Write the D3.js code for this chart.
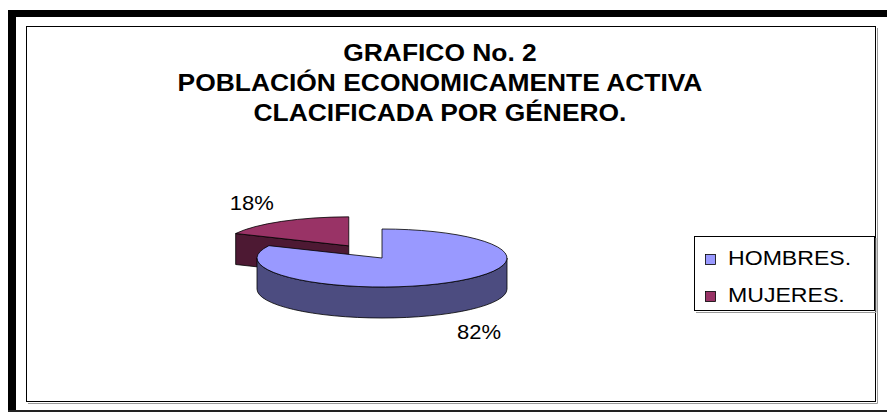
<!DOCTYPE html>
<html>
<head>
<meta charset="utf-8">
<script src="https://cdn.jsdelivr.net/npm/d3@7"></script>
<style>
  body { margin: 0; background: #fff; }
  text { font-family: Arial, "Liberation Sans", sans-serif; }
</style>
</head>
<body>
<script>
// data
var categories = ["HOMBRES.", "MUJERES."];
var values = [82, 18];
var exploded = ["MUJERES."];
var titleLines = ["GRAFICO No. 2", "POBLACIÓN ECONOMICAMENTE ACTIVA", "CLACIFICADA POR GÉNERO."];

var W = 887, H = 413;
var svg = d3.select("body").append("svg")
    .attr("width", W)
    .attr("height", H);

// outer frame (thick black, cropped on the right)
svg.append("rect").attr("x", 8).attr("y", 10).attr("width", W - 8).attr("height", 7).attr("fill", "#000");
svg.append("rect").attr("x", 8).attr("y", 10).attr("width", 8).attr("height", 402).attr("fill", "#000");
svg.append("rect").attr("x", 8).attr("y", 410).attr("width", W - 8).attr("height", 2).attr("fill", "#222");

// chart area border + shadow
svg.append("path")
    .attr("d", "M877.5,28 V403.5 H28")
    .attr("fill", "none").attr("stroke", "#9a9a9a").attr("stroke-width", 1);
svg.append("rect")
    .attr("x", 26.5).attr("y", 26.5).attr("width", 849).attr("height", 375)
    .attr("fill", "none").attr("stroke", "#000").attr("stroke-width", 1);

// title
var stretch = 1.1;
svg.append("g").selectAll("text")
    .data(titleLines)
    .enter().append("text")
    .attr("transform", function(d, i) { return "translate(440," + (61 + i * 30) + ") scale(" + stretch + ",1)"; })
    .attr("text-anchor", "middle")
    .attr("font-size", 24)
    .attr("font-weight", "bold")
    .attr("fill", "#000")
    .text(function(d) { return d; });

var color = d3.scaleOrdinal().domain(categories).range(["#9999FF", "#993366"]);
var sideColor = d3.scaleOrdinal().domain(categories).range(["#4C4C80", "#4D1933"]);

// 3d pie geometry
var cx = 382, cy = 258, rx = 125, ry = 29, depth = 31, explode = 62;

var pie = d3.pie().sort(null).value(function(d) { return d.value; });
var arcs = pie(categories.map(function(c, i) { return {name: c, value: values[i]}; }));
var total = d3.sum(values);
var pct = d3.format(".0%");

arcs.forEach(function(a) {
    var mid = (a.startAngle + a.endAngle) / 2;
    var off = exploded.indexOf(a.data.name) >= 0 ? explode : 0;
    a.mid = mid;
    a.ox = cx + off * Math.sin(mid);
    a.oy = cy - off * Math.cos(mid) * (ry / rx);
});

function pt(a, ang, dz) {
    return [a.ox + rx * Math.sin(ang), a.oy - ry * Math.cos(ang) + (dz || 0)];
}

function topPath(a) {
    var p0 = pt(a, a.startAngle), p1 = pt(a, a.endAngle);
    var large = (a.endAngle - a.startAngle) > Math.PI ? 1 : 0;
    return "M" + a.ox + "," + a.oy + "L" + p0 + "A" + rx + "," + ry + " 0 " + large + " 1 " + p1 + "Z";
}

function wallPath(a) {
    var s = Math.max(a.startAngle, Math.PI / 2), e = Math.min(a.endAngle, 3 * Math.PI / 2);
    if (e <= s) return null;
    var p0 = pt(a, s), p1 = pt(a, e), q1 = pt(a, e, depth), q0 = pt(a, s, depth);
    return "M" + p0 + "A" + rx + "," + ry + " 0 0 1 " + p1 + "L" + q1 +
        "A" + rx + "," + ry + " 0 0 0 " + q0 + "Z";
}

function facePath(a, ang) {
    var p = pt(a, ang), q = pt(a, ang, depth);
    return "M" + a.ox + "," + a.oy + "L" + p + "L" + q + "L" + a.ox + "," + (a.oy + depth) + "Z";
}

// back slices first
var order = arcs.slice().sort(function(a, b) { return Math.cos(b.mid) - Math.cos(a.mid); });

var pieG = svg.append("g")
    .attr("stroke", "#000")
    .attr("stroke-width", 0.8)
    .attr("stroke-linejoin", "round");

order.forEach(function(a) {
    var g = pieG.append("g");
    var w = wallPath(a);
    if (w) g.append("path").attr("d", w).attr("fill", sideColor(a.data.name));
    // cut faces that face the viewer
    if (Math.sin(a.startAngle) < -1e-6)
        g.append("path").attr("d", facePath(a, a.startAngle)).attr("fill", sideColor(a.data.name));
    if (Math.sin(a.endAngle) > 1e-6)
        g.append("path").attr("d", facePath(a, a.endAngle)).attr("fill", sideColor(a.data.name));
    g.append("path").attr("d", topPath(a)).attr("fill", color(a.data.name));
});

// percentage labels
svg.append("g").selectAll("text")
    .data(arcs)
    .enter().append("text")
    .attr("transform", function(a) {
        var lx = a.ox + (rx + 56) * Math.sin(a.mid);
        var ly = a.oy - (ry + 22) * Math.cos(a.mid) + (Math.cos(a.mid) < 0 ? depth : 0);
        return "translate(" + lx + "," + ly + ") scale(" + stretch + ",1)";
    })
    .attr("text-anchor", "middle")
    .attr("dominant-baseline", "central")
    .attr("font-size", 20)
    .attr("fill", "#000")
    .text(function(a) { return pct(a.data.value / total); });

// legend
var legend = svg.append("g");
legend.append("path")
    .attr("d", "M876,238 V312.5 H696")
    .attr("fill", "none").attr("stroke", "#9a9a9a").attr("stroke-width", 1);
legend.append("rect")
    .attr("x", 694.5).attr("y", 236.5).attr("width", 180).attr("height", 74)
    .attr("fill", "#fff").attr("stroke", "#000").attr("stroke-width", 1);

var item = legend.selectAll(".item")
    .data(categories)
    .enter().append("g")
    .attr("class", "item")
    .attr("transform", function(d, i) { return "translate(705," + (265 + i * 37) + ")"; });

item.append("rect")
    .attr("x", 0.5).attr("y", -10.5).attr("width", 10).attr("height", 10)
    .attr("fill", function(d) { return color(d); })
    .attr("stroke", "#000").attr("stroke-width", 0.8);

item.append("text")
    .attr("transform", "translate(23,0) scale(" + stretch + ",1)")
    .attr("font-size", 21)
    .attr("fill", "#000")
    .text(function(d) { return d; });
</script>
</body>
</html>
